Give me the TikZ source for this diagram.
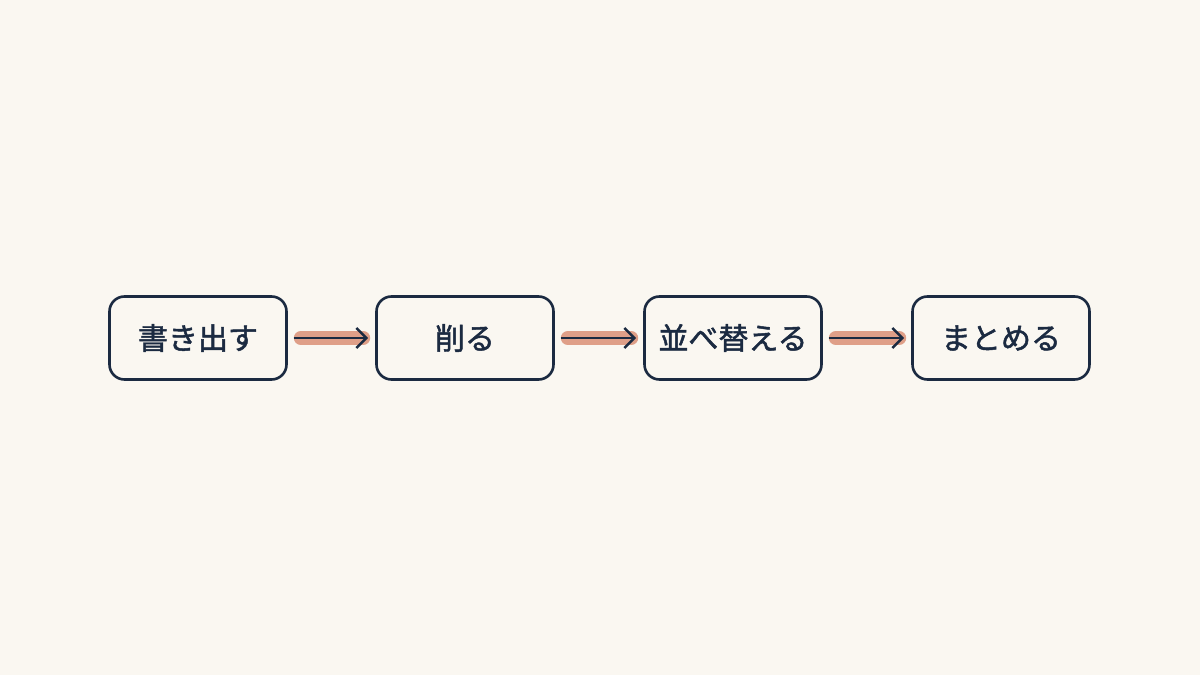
\documentclass[tikz,border=0pt]{standalone}
\usepackage{fontspec}
\newfontfamily\cjk[FakeBold=1.6]{Noto Sans CJK JP}
\usetikzlibrary{arrows.meta}
\definecolor{bg}{HTML}{FAF7F1}
\definecolor{ink}{HTML}{1B2A41}
\definecolor{hl}{HTML}{DF9F88}
\tikzset{
  stepbox/.style={draw=ink, line width=2.6pt, rounded corners=15pt, minimum width=177pt, minimum height=83pt, inner sep=0pt, font=\cjk\fontsize{30}{36}\selectfont, text=ink, fill=bg},
  hlband/.style={draw=hl, line width=14pt, line cap=round},
  conn/.style={draw=ink, line width=2.6pt, -{Straight Barb[length=10pt,width=20pt,line width=2.6pt]}}
}
\begin{document}
\begin{tikzpicture}[x=1pt,y=1pt]
\fill[bg] (0,0) rectangle (1200,675);
\useasboundingbox (0,0) rectangle (1200,675);
\node[stepbox] (a) at (198,337) {書き出す};
\node[stepbox] (b) at (465,337) {削る};
\node[stepbox] (c) at (733,337) {並べ替える};
\node[stepbox] (d) at (1001,337) {まとめる};
\foreach \s/\t in {a/b,b/c,c/d}{
  \draw[hlband] ([xshift=13pt]\s.east) -- ([xshift=-12pt]\t.west);
  \draw[conn] ([xshift=6pt]\s.east) -- ([xshift=-7pt]\t.west);
}
\end{tikzpicture}
\end{document}
